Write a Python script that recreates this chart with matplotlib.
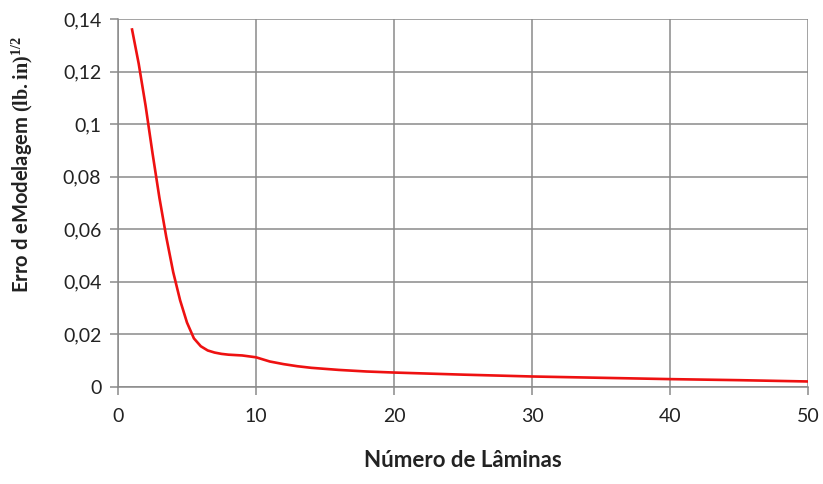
import numpy as np
import matplotlib.pyplot as plt
from matplotlib.ticker import FuncFormatter

# number of blades vs. modelling error
laminas = [1, 1.5, 2, 2.5, 3, 3.5, 4, 4.5, 5, 5.5, 6, 6.5, 7, 7.5, 8, 9, 10,
           11, 12, 13, 14, 15, 16, 17, 18, 20, 25, 30, 35, 40, 45, 50]
erro = [0.1365, 0.123, 0.107, 0.089, 0.072, 0.057, 0.0437, 0.033, 0.0245, 0.0185,
        0.0155, 0.0139, 0.0131, 0.0126, 0.0123, 0.0120, 0.0113,
        0.0097, 0.0087, 0.0079, 0.0073, 0.0069, 0.0065, 0.0062, 0.0059, 0.0055,
        0.0047, 0.0040, 0.0035, 0.0030, 0.0026, 0.0021]

x_ticks = [0, 10, 20, 30, 40, 50]
y_ticks = [0, 0.02, 0.04, 0.06, 0.08, 0.1, 0.12, 0.14]

plt.rcParams['font.family'] = ['Lato', 'DejaVu Sans']
plt.rcParams['mathtext.fontset'] = 'custom'
plt.rcParams['mathtext.rm'] = 'Liberation Serif'
plt.rcParams['mathtext.bf'] = 'Liberation Serif:bold'

fig = plt.figure(figsize=(8.23, 4.84), dpi=100)
ax = fig.add_axes([118 / 823, 1 - 387 / 484, 690 / 823, 368 / 484])

ax.plot(laminas, erro, color='#ee1111', linewidth=1.9,
        solid_capstyle='butt', solid_joinstyle='round')

ax.set_xlim(0, 50)
ax.set_ylim(0, 0.14)
ax.set_xticks(x_ticks)
ax.set_yticks(y_ticks)
ax.yaxis.set_major_formatter(FuncFormatter(lambda v, p: ('%g' % round(v, 2)).replace('.', ',')))

ax.grid(True, color='#8a8a8a', linewidth=1.1)
ax.set_axisbelow(True)
for s in ['top', 'right']:
    ax.spines[s].set_visible(False)
for s in ['left', 'bottom']:
    ax.spines[s].set_color('#8a8a8a')
    ax.spines[s].set_linewidth(1.1)

ax.tick_params(axis='both', direction='out', length=6, width=1.1, color='#8a8a8a',
               labelsize=14, labelcolor='#222222')
ax.tick_params(axis='x', pad=9)
ax.tick_params(axis='y', pad=6)

ax.set_xlabel('Número de Lâminas', fontsize=16, fontweight='bold', labelpad=18, color='#222222')
ax.set_ylabel(r'Erro d eModelagem $\mathbf{(lb.in)}^{\mathbf{1/2}}$', fontsize=14.5,
              fontweight='bold', color='#222222')
ax.yaxis.set_label_coords(-0.12, 0.603)

fig.savefig('out.png', dpi=100)
